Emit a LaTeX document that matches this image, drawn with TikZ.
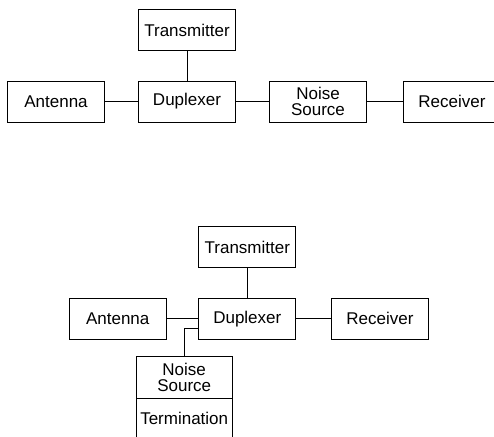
\documentclass[tikz,border=0pt]{standalone}
\usepackage{fontspec}
\setmainfont{Liberation Sans}
\usetikzlibrary{positioning}
\tikzset{
  blockbox/.style={draw, line width=1pt, minimum width=97pt, minimum height=41pt, inner sep=0pt, outer sep=0pt, align=center, font=\fontsize{17}{16.5}\selectfont},
  link/.style={line width=1pt}
}

\begin{document}
\begin{tikzpicture}[x=1pt, y=-1pt]
  \useasboundingbox (0,0) rectangle (494,436);
  \clip (0,0) rectangle (494,436);
  % first setup
  \node[blockbox] (tx1) at (187,30) {Transmitter};
  \node[blockbox] (ant1) at (56,101.5) {Antenna};
  \node[blockbox] (dup1) at (187,101.5) {Duplexer};
  \node[blockbox] (ns1) at (318,101.5) {Noise\\Source};
  \node[blockbox] (rx1) at (452,101.5) {Receiver};
  \draw[link] (tx1) -- (dup1);
  \draw[link] (ant1) -- (dup1);
  \draw[link] (dup1) -- (ns1);
  \draw[link] (ns1) -- (rx1);
  % second setup
  \node[blockbox] (tx2) at (247.3,247) {Transmitter};
  \node[blockbox] (ant2) at (117.7,318.7) {Antenna};
  \node[blockbox] (dup2) at (247.3,318.7) {Duplexer};
  \node[blockbox] (rx2) at (380,318.7) {Receiver};
  \node[blockbox, minimum width=96pt, minimum height=41.6pt] (ns2) at (184.2,377.5) {Noise\\Source};
  \node[blockbox, minimum width=96pt, below=0pt of ns2] (term2) {Termination};
  \draw[link] (tx2) -- (dup2);
  \draw[link] (ant2) -- (dup2);
  \draw[link] (dup2) -- (rx2);
  \draw[link] (ns2.north) |- ([yshift=-9.6pt]dup2.west);
\end{tikzpicture}
\end{document}
